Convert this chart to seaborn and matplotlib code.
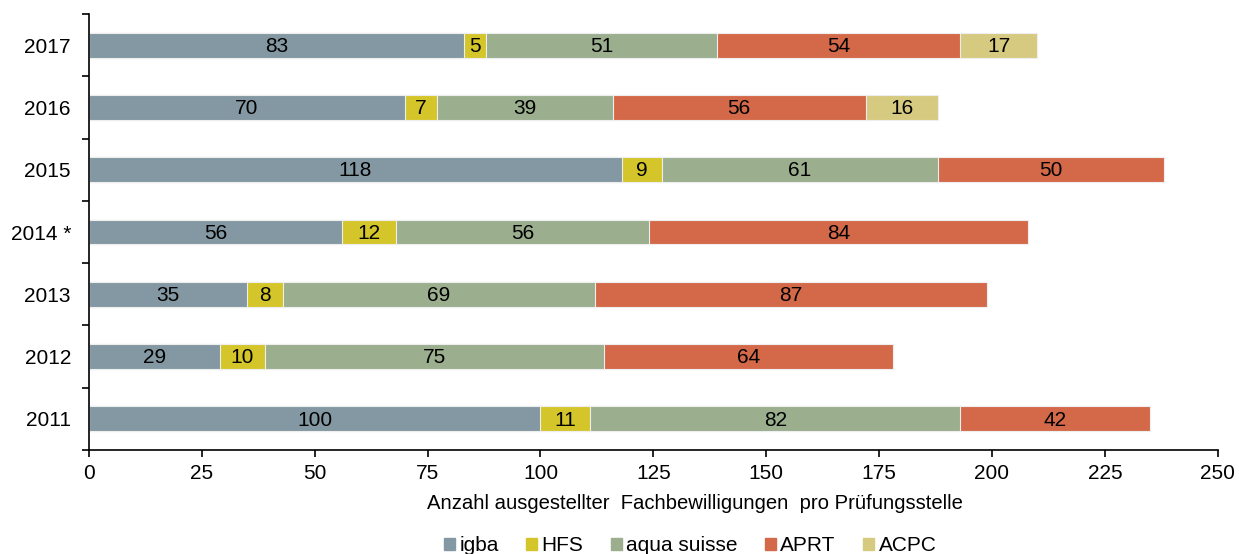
import numpy as np
import pandas as pd
import matplotlib
matplotlib.use("Agg")
import matplotlib.pyplot as plt
import seaborn as sns

# Data (top to bottom)
years = ['2017', '2016', '2015', '2014 *', '2013', '2012', '2011']
igba = [83, 70, 118, 56, 35, 29, 100]
hfs = [5, 7, 9, 12, 8, 10, 11]
aqua = [51, 39, 61, 56, 69, 75, 82]
aprt = [54, 56, 50, 84, 87, 64, 42]
acpc = [17, 16, 0, 0, 0, 0, 0]

series = ['igba', 'HFS', 'aqua suisse', 'APRT', 'ACPC']
colors = ['#8398A2', '#D4C62A', '#9BAE8E', '#D4694A', '#D6CA80']

sns.set_style('ticks')
plt.rcParams['font.family'] = ['Liberation Sans', 'DejaVu Sans']
plt.rcParams['text.color'] = 'black'
plt.rcParams['xtick.color'] = 'black'
plt.rcParams['ytick.color'] = 'black'
plt.rcParams['axes.labelcolor'] = 'black'
plt.rcParams['axes.edgecolor'] = 'black'

df = pd.DataFrame({'year': years, 'igba': igba, 'HFS': hfs,
                   'aqua suisse': aqua, 'APRT': aprt, 'ACPC': acpc})
cum = df[series].cumsum(axis=1)

fig = plt.figure(figsize=(12.39, 5.54), dpi=100)
ax = fig.add_axes([0.0718, 0.1877, 0.911, 0.787])

# stacked bars: draw cumulative totals from the last series back to the first
for s, c in reversed(list(zip(series, colors))):
    sns.barplot(x=cum[s], y=df['year'], order=years, color=c, width=0.4,
                saturation=1, orient='h', edgecolor='#eeeeee', linewidth=0.8, ax=ax)

# value labels
for s in series:
    for i, y in enumerate(years):
        v = df.loc[i, s]
        if v == 0:
            continue
        mid = cum.loc[i, s] - v / 2
        ax.text(mid, i + 0.02, str(v), ha='center', va='center', fontsize=15, color='black')

ax.set_xlim(0, 250)
ax.set_ylim(6.5, -0.5)
ax.set_xticks(np.arange(0, 251, 25))
ax.set_yticks(range(len(years)))
ax.set_yticklabels(years)
ax.set_yticks(np.arange(-0.5, 7, 1), minor=True)
ax.tick_params(axis='y', which='major', length=0, pad=13, labelsize=15)
ax.tick_params(axis='y', which='minor', length=5, width=1.2, direction='out')
ax.tick_params(axis='x', length=5, width=1.2, direction='out', labelsize=15, pad=5)
ax.set_xlabel('Anzahl ausgestellter  Fachbewilligungen  pro Prüfungsstelle', fontsize=14.6)
ax.xaxis.set_label_coords(0.537, -0.1)
ax.set_ylabel('')
for sp in ['top', 'right']:
    ax.spines[sp].set_visible(False)
for sp in ['left', 'bottom']:
    ax.spines[sp].set_linewidth(1.2)

handles = [plt.Rectangle((0, 0), 1, 1, color=c) for c in colors]
fig.legend(handles, series, loc='center', bbox_to_anchor=(0.557, 0.015), ncol=5,
           frameon=False, fontsize=15, handlelength=0.55, handleheight=0.55,
           handletextpad=0.2, columnspacing=1.3)

fig.savefig('out.png', dpi=100)
